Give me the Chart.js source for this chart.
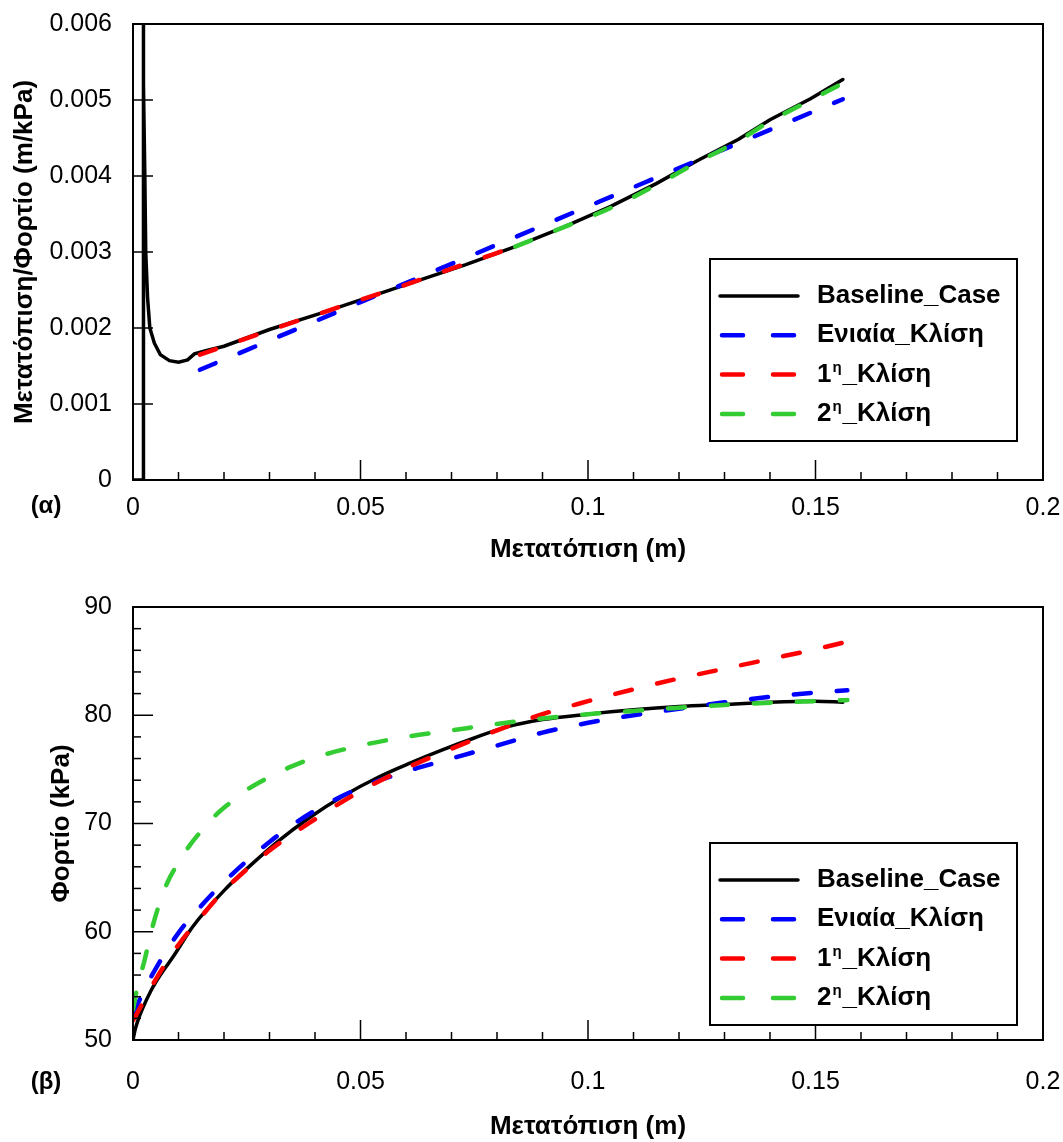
<!DOCTYPE html>
<html>
<head>
<meta charset="utf-8">
<script src="https://cdn.jsdelivr.net/npm/chart.js@4.4.1/dist/chart.umd.min.js"></script>
<style>
  body { margin: 0; background: #fff; }
  #wrap { position: relative; width: 1063px; height: 1142px; }
  canvas { position: absolute; left: 0; }
</style>
</head>
<body>
<div id="wrap">
  <canvas id="ratioChart" width="1063" height="571" style="top:0"></canvas>
  <canvas id="loadChart" width="1063" height="571" style="top:571px"></canvas>
</div>
<script>
// series names (legend)
const seriesNames = ['Baseline_Case', 'Ενιαία_Κλίση', '1η_Κλίση', '2η_Κλίση'];

// tick labels
const xTickLabels = [0, 0.05, 0.1, 0.15, 0.2];
const ratioTickLabels = [0, 0.001, 0.002, 0.003, 0.004, 0.005, 0.006];
const loadTickLabels = [50, 60, 70, 80, 90];

// (α) displacement / load
const ratioBaseX = [0, 0.0022, 0.0022, 0.0024, 0.0026, 0.0028, 0.0032, 0.0037, 0.0047, 0.006, 0.008, 0.010, 0.012, 0.0135, 0.016, 0.02, 0.03, 0.041, 0.051, 0.062, 0.073, 0.084, 0.094, 0.105, 0.115, 0.124, 0.133, 0.14, 0.149, 0.156];
const ratioBaseY = [0, 0, 0.0080, 0.0052, 0.0040, 0.0030, 0.0024, 0.0020, 0.0018, 0.00165, 0.00157, 0.00155, 0.00158, 0.00166, 0.00170, 0.00176, 0.00198, 0.00219, 0.00239, 0.00261, 0.00283, 0.00307, 0.00331, 0.00360, 0.00390, 0.00420, 0.00448, 0.00474, 0.00502, 0.00527];
const ratioUniX = [0.0147, 0.05, 0.1, 0.156];
const ratioUniY = [0.00145, 0.00234, 0.00360, 0.00501];
const ratioFirstX = [0.0147, 0.02, 0.03, 0.04, 0.05, 0.06, 0.07, 0.084];
const ratioFirstY = [0.00165, 0.00176, 0.00197, 0.00217, 0.00237, 0.00257, 0.00278, 0.00307];
const ratioSecondX = [0.084, 0.094, 0.105, 0.115, 0.124, 0.133, 0.14, 0.149, 0.156];
const ratioSecondY = [0.00307, 0.00331, 0.00358, 0.00388, 0.00418, 0.00446, 0.00472, 0.00500, 0.00522];

// (β) load
const loadBaseX = [0, 0.0005, 0.001, 0.002, 0.004, 0.006, 0.009, 0.013, 0.02, 0.026, 0.032, 0.039, 0.046, 0.054, 0.061, 0.068, 0.075, 0.082, 0.09, 0.1, 0.11, 0.12, 0.13, 0.14, 0.15, 0.156];
const loadBaseY = [50, 51.0, 51.7, 52.8, 54.6, 56.0, 57.8, 60.4, 63.8, 66.2, 68.4, 70.6, 72.5, 74.3, 75.6, 76.8, 77.9, 78.9, 79.6, 80.1, 80.5, 80.8, 81.0, 81.2, 81.3, 81.2];
const loadUniX = [0, 0.002, 0.005, 0.01, 0.015, 0.02, 0.03, 0.04, 0.05, 0.06, 0.07, 0.08, 0.09, 0.1, 0.11, 0.12, 0.13, 0.14, 0.15, 0.157];
const loadUniY = [52.3, 54.2, 56.6, 59.9, 62.4, 64.6, 68.3, 71.2, 73.3, 74.8, 76.0, 77.2, 78.4, 79.3, 80.0, 80.6, 81.2, 81.7, 82.1, 82.3];
const loadFirstX = [0, 0.002, 0.005, 0.01, 0.015, 0.02, 0.03, 0.04, 0.05, 0.06, 0.07, 0.08, 0.09, 0.1, 0.11, 0.12, 0.13, 0.14, 0.15, 0.157];
const loadFirstY = [51.8, 53.3, 55.6, 58.8, 61.4, 63.8, 67.5, 70.4, 73.0, 75.1, 76.9, 78.6, 80.1, 81.3, 82.4, 83.4, 84.3, 85.2, 86.1, 86.8];
const loadSecondX = [0, 0.001, 0.0025, 0.004, 0.0055, 0.0075, 0.01, 0.0125, 0.015, 0.018, 0.021, 0.025, 0.03, 0.035, 0.04, 0.05, 0.06, 0.07, 0.08, 0.09, 0.1, 0.11, 0.12, 0.13, 0.14, 0.15, 0.157];
const loadSecondY = [52.8, 55.0, 57.3, 60.0, 62.2, 64.5, 66.4, 68.0, 69.3, 70.7, 71.8, 73.1, 74.3, 75.3, 76.1, 77.2, 78.0, 78.6, 79.2, 79.7, 80.1, 80.4, 80.7, 80.95, 81.15, 81.3, 81.4];

const FONT = "'Liberation Sans', Arial, sans-serif";
const colors = ['#000000', '#0000ff', '#ff0000', '#33cc33'];

const toPoints = (xs, ys) => xs.map((x, i) => ({ x: x, y: ys[i] }));
const fmt = v => String(Number(v.toFixed(4)));
const isIn = (list, v) => list.some(t => Math.abs(t - v) < 1e-9);

// ticks pointing inside the frame + the frame itself
const innerTicks = {
  id: 'innerTicks',
  afterDatasetsDraw(chart, args, opts) {
    const ctx = chart.ctx, a = chart.chartArea;
    ctx.save();
    ctx.strokeStyle = '#000';
    ctx.lineWidth = 1.5;
    chart.scales.x.ticks.forEach(t => {
      const p = chart.scales.x.getPixelForValue(t.value);
      const len = isIn(xTickLabels, t.value) ? 20 : 8;
      ctx.beginPath(); ctx.moveTo(p, a.bottom); ctx.lineTo(p, a.bottom - len); ctx.stroke();
    });
    chart.scales.y.ticks.forEach(t => {
      const p = chart.scales.y.getPixelForValue(t.value);
      const len = isIn(opts.yMajor, t.value) ? 20 : 8;
      ctx.beginPath(); ctx.moveTo(a.left, p); ctx.lineTo(a.left + len, p); ctx.stroke();
    });
    ctx.lineWidth = 2;
    ctx.strokeRect(a.left, a.top, a.width, a.height);
    ctx.restore();
  }
};

// boxed legend inside the plot + panel tag (α)/(β)
const boxLegend = {
  id: 'boxLegend',
  afterDraw(chart, args, opts) {
    const ctx = chart.ctx, a = chart.chartArea;
    const right = a.right - opts.right, bottom = a.bottom - opts.bottom;
    const left = right - 307, top = bottom - 182;
    ctx.save();
    ctx.fillStyle = '#fff';
    ctx.fillRect(left, top, 307, 182);
    ctx.strokeStyle = '#000';
    ctx.lineWidth = 2;
    ctx.strokeRect(left, top, 307, 182);
    chart.data.datasets.forEach((ds, i) => {
      const y = top + 37 + i * 39.3;
      ctx.beginPath();
      ctx.strokeStyle = ds.borderColor;
      ctx.lineWidth = ds.borderWidth;
      ctx.lineCap = 'round';
      if (ds.borderDash && ds.borderDash.length) {
        ctx.moveTo(left + 12, y); ctx.lineTo(left + 33, y);
        ctx.moveTo(left + 63, y); ctx.lineTo(left + 84, y);
      } else {
        ctx.moveTo(left + 10, y); ctx.lineTo(left + 88, y);
      }
      ctx.stroke();
      ctx.fillStyle = '#000';
      ctx.textBaseline = 'middle';
      ctx.textAlign = 'left';
      let x = left + 107;
      const m = /^(\d)(η)(.*)$/.exec(ds.label);
      ctx.font = 'bold 26px ' + FONT;
      if (m) {
        ctx.fillText(m[1], x, y); x += ctx.measureText(m[1]).width + 1;
        ctx.font = 'bold 15px ' + FONT;
        ctx.fillText(m[2], x, y - 7); x += ctx.measureText(m[2]).width + 1;
        ctx.font = 'bold 26px ' + FONT;
        ctx.fillText(m[3], x, y);
      } else {
        ctx.fillText(ds.label, x, y);
      }
    });
    ctx.font = 'bold 24px ' + FONT;
    ctx.textAlign = 'center';
    ctx.fillText(opts.tag, 46, a.bottom + opts.tagDy);
    ctx.restore();
  }
};

function makeDatasets(sets) {
  return sets.map((pts, i) => ({
    label: seriesNames[i],
    data: pts,
    borderColor: colors[i],
    borderWidth: i === 0 ? 3.5 : 4.5,
    borderDash: i === 0 ? [] : [17, 26],
    borderCapStyle: 'round',
    pointRadius: 0,
    tension: 0,
    cubicInterpolationMode: i === 0 && sets.isRatio ? 'default' : 'monotone',
    order: 4 - i
  }));
}

function makeChart(el, sets, yOpts, plugOpts, pad) {
  return new Chart(el, {
    type: 'line',
    data: { datasets: makeDatasets(sets) },
    plugins: [innerTicks, boxLegend],
    options: {
      responsive: false,
      animation: false,
      layout: { padding: { top: pad.top, right: 20, left: 0, bottom: 0 } },
      plugins: {
        legend: { display: false },
        tooltip: { enabled: false },
        innerTicks: { yMajor: yOpts.major },
        boxLegend: plugOpts
      },
      scales: {
        x: {
          type: 'linear', min: 0, max: 0.2,
          border: { display: false },
          grid: { display: false, drawTicks: false },
          ticks: {
            stepSize: 0.01, autoSkip: false, maxRotation: 0, padding: pad.xTick,
            color: '#000', font: { family: FONT, size: 25 },
            callback: v => isIn(xTickLabels, v) ? fmt(v) : ''
          },
          title: {
            display: true, text: 'Μετατόπιση (m)', color: '#000',
            font: { family: FONT, size: 26, weight: 'bold' },
            padding: { top: 0, bottom: pad.xTitle }
          },
          afterFit: s => { s.height = pad.xHeight; s.paddingLeft = 0; s.paddingRight = 0; }
        },
        y: {
          type: 'linear', min: yOpts.min, max: yOpts.max,
          border: { display: false },
          grid: { display: false, drawTicks: false },
          ticks: {
            stepSize: yOpts.step, autoSkip: false, padding: 21,
            color: '#000', font: { family: FONT, size: 25 },
            callback: v => isIn(yOpts.major, v) ? fmt(v) : ''
          },
          title: {
            display: true, text: yOpts.title, color: '#000',
            font: { family: FONT, size: 26, weight: 'bold' },
            padding: { top: yOpts.titlePad, bottom: 0 }
          },
          afterFit: s => { s.width = 133; s.paddingTop = 0; s.paddingBottom = 0; }
        }
      }
    }
  });
}

const ratioSets = [
  toPoints(ratioBaseX, ratioBaseY),
  toPoints(ratioUniX, ratioUniY),
  toPoints(ratioFirstX, ratioFirstY),
  toPoints(ratioSecondX, ratioSecondY)
];
ratioSets.isRatio = true;

const loadSets = [
  toPoints(loadBaseX, loadBaseY),
  toPoints(loadUniX, loadUniY),
  toPoints(loadFirstX, loadFirstY),
  toPoints(loadSecondX, loadSecondY)
];

makeChart(document.getElementById('ratioChart'), ratioSets,
  { min: 0, max: 0.006, step: 0.001, major: ratioTickLabels, title: 'Μετατόπιση/Φορτίο (m/kPa)', titlePad: 9 },
  { right: 26, bottom: 39, tag: '(α)', tagDy: 26 },
  { top: 24, xHeight: 91, xTick: 13, xTitle: 6 });

makeChart(document.getElementById('loadChart'), loadSets,
  { min: 50, max: 90, step: 2, major: loadTickLabels, title: 'Φορτίο (kPa)', titlePad: 46 },
  { right: 26, bottom: 15, tag: '(β)', tagDy: 42 },
  { top: 36, xHeight: 102, xTick: 27, xTitle: 0 });
</script>
</body>
</html>
